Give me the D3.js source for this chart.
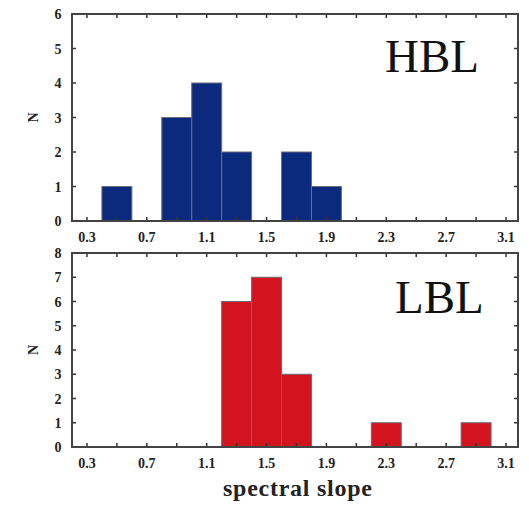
<!DOCTYPE html>
<html>
<head>
<meta charset="utf-8">
<script src="https://cdn.jsdelivr.net/npm/d3@7"></script>
<style>
  body { margin: 0; background: #fff; }
  svg text { font-family: "Liberation Serif", "DejaVu Serif", serif; fill: #222; }
  .tick-label { font-size: 14px; font-weight: bold; }
</style>
</head>
<body>
<svg id="chart" width="529" height="509"></svg>
<script>
// bin left edges (width 0.2) and counts
const binWidth = 0.2
const hblBins = [0.4, 0.8, 1.0, 1.2, 1.6, 1.8]
const hblCounts = [1, 3, 4, 2, 2, 1]
const lblBins = [1.2, 1.4, 1.6, 2.2, 2.8]
const lblCounts = [6, 7, 3, 1, 1]
const xLabels = [0.3, 0.7, 1.1, 1.5, 1.9, 2.3, 2.7, 3.1]
const xMinor = [0.5, 0.9, 1.3, 1.7, 2.1, 2.5, 2.9]

const svg = d3.select('#chart')
const left = 72, right = 518

const x = d3.scaleLinear()
    .domain([0.2, 3.18])
    .range([left, right])

function panel(opts) {
    const y = d3.scaleLinear()
        .domain([0, opts.ymax])
        .range([opts.bottom, opts.top])
    const g = svg.append('g')

    g.selectAll('rect.bar')
        .data(opts.bins)
        .enter()
        .append('rect')
        .attr('class', 'bar')
        .attr('x', d => x(d))
        .attr('width', d => x(d + binWidth) - x(d))
        .attr('y', (d, i) => y(opts.counts[i]))
        .attr('height', (d, i) => y(0) - y(opts.counts[i]))
        .attr('fill', opts.color)
        .attr('stroke', '#6b6b7a')
        .attr('stroke-width', 1)

    // ticks, inward on all four sides
    const tickLen = 4
    const allX = xLabels.concat(xMinor)
    g.selectAll('line.xb')
        .data(allX).enter().append('line')
        .attr('x1', d => x(d)).attr('x2', d => x(d))
        .attr('y1', opts.bottom).attr('y2', opts.bottom - tickLen)
        .attr('stroke', '#333').attr('stroke-width', 1.5)
    g.selectAll('line.xt')
        .data(allX).enter().append('line')
        .attr('x1', d => x(d)).attr('x2', d => x(d))
        .attr('y1', opts.top).attr('y2', opts.top + tickLen)
        .attr('stroke', '#333').attr('stroke-width', 1.5)
    const yt = d3.range(0, opts.ymax + 1)
    g.selectAll('line.yl')
        .data(yt).enter().append('line')
        .attr('x1', left).attr('x2', left + tickLen)
        .attr('y1', d => y(d)).attr('y2', d => y(d))
        .attr('stroke', '#333').attr('stroke-width', 1.5)
    g.selectAll('line.yr')
        .data(yt).enter().append('line')
        .attr('x1', right).attr('x2', right - tickLen)
        .attr('y1', d => y(d)).attr('y2', d => y(d))
        .attr('stroke', '#333').attr('stroke-width', 1.5)

    g.append('rect')
        .attr('x', left).attr('y', opts.top)
        .attr('width', right - left).attr('height', opts.bottom - opts.top)
        .attr('fill', 'none')
        .attr('stroke', '#444')
        .attr('stroke-width', 2)

    g.selectAll('text.xl')
        .data(xLabels).enter().append('text')
        .attr('class', 'tick-label')
        .attr('x', d => x(d))
        .attr('y', opts.bottom + 21)
        .attr('text-anchor', 'middle')
        .text(d => d.toFixed(1))
    g.selectAll('text.yl')
        .data(yt).enter().append('text')
        .attr('class', 'tick-label')
        .attr('x', 58)
        .attr('y', d => y(d) + 5)
        .attr('text-anchor', 'middle')
        .text(d => d)

    g.append('text')
        .attr('transform', `translate(38, ${(opts.top + opts.bottom) / 2}) rotate(-90)`)
        .attr('text-anchor', 'middle')
        .style('font-size', '14px')
        .style('font-weight', 'bold')
        .text('N')

    g.append('text')
        .attr('x', opts.labelX)
        .attr('y', opts.labelY)
        .style('font-size', '47px')
        .style('fill', '#111')
        .text(opts.label)
}

panel({ top: 14, bottom: 221, ymax: 6, bins: hblBins, counts: hblCounts,
        color: '#0b2a7e', label: 'HBL', labelX: 385, labelY: 72 })
panel({ top: 253, bottom: 447, ymax: 8, bins: lblBins, counts: lblCounts,
        color: '#d3141f', label: 'LBL', labelX: 395, labelY: 313 })

svg.append('text')
    .attr('x', 223)
    .attr('y', 496)
    .attr('textLength', 149)
    .attr('lengthAdjust', 'spacing')
    .style('font-size', '24px')
    .style('font-weight', 'bold')
    .text('spectral slope')
</script>
</body>
</html>
